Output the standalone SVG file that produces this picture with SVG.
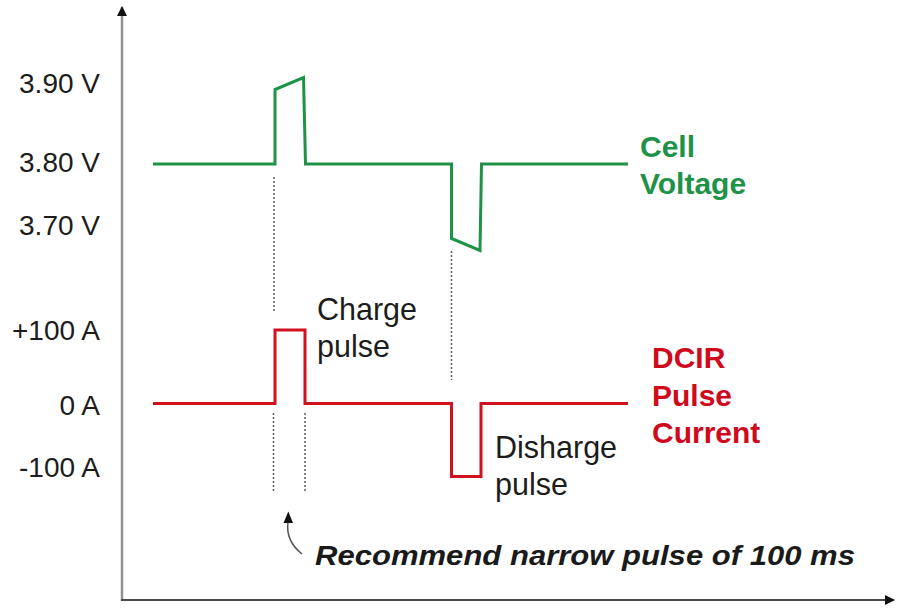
<svg xmlns="http://www.w3.org/2000/svg" width="916" height="614" viewBox="0 0 916 614">
<defs>
<style>
.lbl{font-family:"Liberation Sans",Arial,sans-serif;font-size:28px;fill:#1c1c1c}
.note{font-family:"Liberation Sans",Arial,sans-serif;font-size:30.5px;fill:#1c1c1c}
.green{font-family:"Liberation Sans",Arial,sans-serif;font-size:30px;font-weight:bold;fill:#1e9247}
.red{font-family:"Liberation Sans",Arial,sans-serif;font-size:30px;font-weight:bold;fill:#cf0a1d}
.big{font-family:"Liberation Sans",Arial,sans-serif;font-size:28px;font-weight:bold;font-style:italic;fill:#1a1a1a}
.dot{stroke:#5a5a5a;stroke-width:1.5;stroke-dasharray:2 2;fill:none}
.sig{fill:none;stroke-width:3;stroke-linejoin:miter}
</style>
<marker id="ah" viewBox="0 0 10 10" refX="9" refY="5" markerWidth="10" markerHeight="10" markerUnits="userSpaceOnUse" orient="auto">
<path d="M0,0 L10,5 L0,10 Z" fill="#111"/>
</marker>
</defs>
<rect width="916" height="614" fill="#fff"/>
<g id="axes">
<line x1="122" y1="601" x2="122" y2="7" stroke="#948f91" stroke-width="2.5" marker-end="url(#ah)"/>
<line x1="121" y1="600" x2="894" y2="600" stroke="#4a4a4a" stroke-width="2" marker-end="url(#ah)"/>
</g>
<g id="y-labels">
<text class="lbl" x="100" y="93" text-anchor="end">3.90 V</text>
<text class="lbl" x="100" y="172" text-anchor="end">3.80 V</text>
<text class="lbl" x="100" y="235" text-anchor="end">3.70 V</text>
<text class="lbl" x="100" y="340" text-anchor="end">+100 A</text>
<text class="lbl" x="100" y="415" text-anchor="end">0 A</text>
<text class="lbl" x="100" y="477" text-anchor="end">-100 A</text>
</g>
<g id="connectors">
<line class="dot" x1="274" y1="177" x2="274" y2="313"/>
<line class="dot" x1="451.5" y1="251" x2="451.5" y2="380"/>
<line class="dot" x1="273.5" y1="413" x2="273.5" y2="493"/>
<line class="dot" x1="305" y1="413" x2="305" y2="493"/>
<path d="M302,554 C292,546 286,536 288,522" fill="none" stroke="#555" stroke-width="1.5"/>
<path d="M288.3,511.5 L283.5,523 L293,523 Z" fill="#111"/>
</g>
<g id="cell-voltage">
<polyline class="sig" stroke="#1e9247" points="153,164 275,164 275,89.5 303.5,77.5 305.5,164 451.5,164 451.5,238.5 480,250.5 481.5,164 628,164"/>
<text class="green" x="640" y="157">Cell</text>
<text class="green" x="640" y="194">Voltage</text>
</g>
<g id="pulse-current">
<polyline class="sig" stroke="#d0121f" points="153,403.5 275,403.5 275,330 305,330 305,403.5 451.5,403.5 451.5,476.5 481,476.5 481,403.5 628,403.5"/>
<text class="red" x="652" y="368">DCIR</text>
<text class="red" x="652" y="406">Pulse</text>
<text class="red" x="652" y="443">Current</text>
</g>
<g id="charge-label">
<text class="note" x="317" y="320">Charge</text>
<text class="note" x="317" y="357">pulse</text>
</g>
<g id="discharge-label">
<text class="note" x="495" y="458">Disharge</text>
<text class="note" x="495" y="495">pulse</text>
</g>
<g id="note">
<text class="big" x="315" y="565" textLength="540" lengthAdjust="spacingAndGlyphs">Recommend narrow pulse of 100 ms</text>
</g>
</svg>
